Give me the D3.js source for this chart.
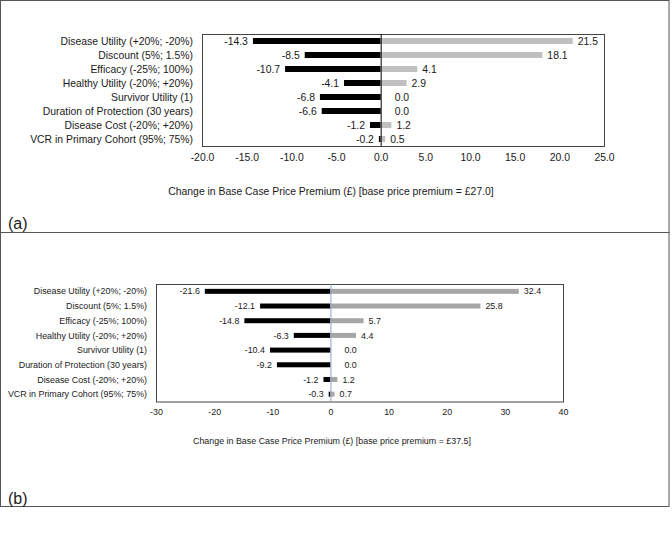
<!DOCTYPE html>
<html>
<head>
<meta charset="utf-8">
<script src="https://cdn.jsdelivr.net/npm/d3@7"></script>
<style>
  body { margin: 0; background: #fff; }
  text { font-family: "Liberation Sans", Arial, sans-serif; fill: #1a1a1a; }
</style>
</head>
<body>
<svg id="chart" width="672" height="536"></svg>
<script>
// tornado chart data, two scenarios
var categories = [
  "Disease Utility (+20%; -20%)",
  "Discount (5%; 1.5%)",
  "Efficacy (-25%; 100%)",
  "Healthy Utility (-20%; +20%)",
  "Survivor Utility (1)",
  "Duration of Protection (30 years)",
  "Disease Cost (-20%; +20%)",
  "VCR in Primary Cohort (95%; 75%)"
];
var lowA  = [-14.3, -8.5, -10.7, -4.1, -6.8, -6.6, -1.2, -0.2];
var highA = [21.5, 18.1, 4.1, 2.9, 0.0, 0.0, 1.2, 0.5];
var ticksA = [-20, -15, -10, -5, 0, 5, 10, 15, 20, 25];

var lowB  = [-21.6, -12.1, -14.8, -6.3, -10.4, -9.2, -1.2, -0.3];
var highB = [32.4, 25.8, 5.7, 4.4, 0.0, 0.0, 1.2, 0.7];
var ticksB = [-30, -20, -10, 0, 10, 20, 30, 40];

var svg = d3.select("#chart");

// outer frames
svg.append("rect").attr("x", 0.5).attr("y", 0.5).attr("width", 668.5).attr("height", 232)
    .style("fill", "none").style("stroke", "#555").style("stroke-width", 1);
svg.append("rect").attr("x", 0.5).attr("y", 232.5).attr("width", 668.5).attr("height", 274)
    .style("fill", "none").style("stroke", "#555").style("stroke-width", 1);

// plain hyphen instead of d3's unicode minus
function fmt1(d){ return d.toFixed(1); }
function fmt0(d){ return d.toFixed(0); }

function tornado(cfg){
    var x = d3.scaleLinear().domain(cfg.domain).range([cfg.left, cfg.right]);
    var y = d3.scaleBand().domain(categories).range([cfg.top, cfg.bottom]);
    var g = svg.append("g");

    g.append("rect")
        .attr("x", cfg.left + 0.5).attr("y", cfg.top + 0.5)
        .attr("width", cfg.right - cfg.left).attr("height", cfg.bottom - cfg.top)
        .style("fill", "none").style("stroke", "#444").style("stroke-width", 1);

    var rows = categories.map(function(c, i){ return {cat: c, lo: cfg.low[i], hi: cfg.high[i]}; });

    g.selectAll(".lo").data(rows).enter().append("rect")
        .attr("x", function(d){ return x(d.lo); })
        .attr("y", function(d){ return y(d.cat) + (y.bandwidth() - cfg.barH)/2; })
        .attr("width", function(d){ return x(0) - x(d.lo); })
        .attr("height", cfg.barH)
        .style("fill", "#000");

    g.selectAll(".hi").data(rows).enter().append("rect")
        .attr("x", x(0))
        .attr("y", function(d){ return y(d.cat) + (y.bandwidth() - cfg.barH)/2; })
        .attr("width", function(d){ return x(d.hi) - x(0); })
        .attr("height", cfg.barH)
        .style("fill", cfg.hiColor);

    g.append("line")
        .attr("x1", x(0) + 0.5).attr("x2", x(0) + 0.5)
        .attr("y1", cfg.top).attr("y2", cfg.bottom)
        .style("stroke", cfg.zeroColor).style("stroke-width", 1);

    // value labels
    g.selectAll(".lolab").data(rows).enter().append("text")
        .text(function(d){ return fmt1(d.lo); })
        .attr("x", function(d){ return x(d.lo) - 5; })
        .attr("y", function(d){ return y(d.cat) + y.bandwidth()/2; })
        .attr("dy", "0.35em")
        .attr("text-anchor", "end")
        .style("font-size", cfg.fs + "px");

    g.selectAll(".hilab").data(rows).enter().append("text")
        .text(function(d){ return fmt1(d.hi); })
        .attr("x", function(d){ return x(d.hi) + (d.hi === 0 ? 14 : 5); })
        .attr("y", function(d){ return y(d.cat) + y.bandwidth()/2; })
        .attr("dy", "0.35em")
        .style("font-size", cfg.fs + "px");

    // category labels
    g.selectAll(".cat").data(categories).enter().append("text")
        .text(function(d){ return d; })
        .attr("x", cfg.left - 9)
        .attr("y", function(d){ return y(d) + y.bandwidth()/2; })
        .attr("dy", "0.35em")
        .attr("text-anchor", "end")
        .style("font-size", cfg.fs + "px");

    // x axis (tick labels only, like the original)
    var axis = d3.axisBottom(x).tickValues(cfg.ticks).tickSize(0).tickPadding(0)
        .tickFormat(cfg.fmt);
    var ag = g.append("g").attr("transform", "translate(0," + cfg.tickY + ")").call(axis);
    ag.select(".domain").remove();
    ag.selectAll("text").style("font-size", cfg.fs + "px").style("font-family", "Liberation Sans, Arial, sans-serif")
        .style("fill", "#1a1a1a")
        .attr("dy", "0.35em").attr("y", 0);

    g.append("text")
        .text(cfg.title)
        .attr("x", cfg.titleX).attr("y", cfg.titleY)
        .attr("dy", "0.35em")
        .attr("text-anchor", "middle")
        .style("font-size", cfg.fs + "px");

    g.append("text")
        .text(cfg.tag)
        .attr("x", 8).attr("y", cfg.tagY)
        .style("font-size", "16px");
}

tornado({
    domain: [-20, 25], left: 202, right: 604, top: 34, bottom: 146,
    low: lowA, high: highA, ticks: ticksA, fmt: fmt1,
    barH: 6, hiColor: "#c0c0c0", zeroColor: "#000", fs: 10.4,
    tickY: 157, titleX: 331, titleY: 191,
    title: "Change in Base Case Price Premium (\u00a3) [base price premium = \u00a327.0]",
    tag: "(a)", tagY: 229
});

tornado({
    domain: [-30, 40], left: 156, right: 563, top: 284, bottom: 401.5,
    low: lowB, high: highB, ticks: ticksB, fmt: fmt0,
    barH: 5, hiColor: "#a6a6a6", zeroColor: "#8fa6c2", fs: 8.9,
    tickY: 412, titleX: 332, titleY: 441,
    title: "Change in Base Case Price Premium (\u00a3) [base price premium = \u00a337.5]",
    tag: "(b)", tagY: 504
});
</script>
</body>
</html>
